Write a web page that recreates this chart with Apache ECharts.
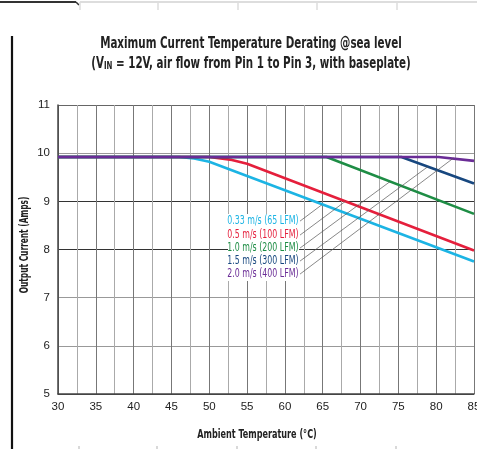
<!DOCTYPE html>
<html><head><meta charset="utf-8">
<script src="https://cdn.jsdelivr.net/npm/echarts@6/dist/echarts.min.js"></script>
<style>html,body{margin:0;padding:0;background:#fff}#c{width:477px;height:449px}</style>
</head><body><div id="c"></div>
<script>
const FONT = "'DejaVu Sans Condensed',sans-serif";
const TICKFONT = "'Liberation Sans',sans-serif";
const titleLine1 = 'Maximum Current Temperature Derating @sea level';
const titleLine2 = '(V{s|IN} = 12V, air flow from Pin 1 to Pin 3, with baseplate)';
const xName = 'Ambient Temperature (°C)';
const yName = 'Output Current (Amps)';
const seriesNames = ['0.33 m/s (65 LFM)','0.5 m/s (100 LFM)','1.0 m/s (200 LFM)','1.5 m/s (300 LFM)','2.0 m/s (400 LFM)'];
const seriesColors = ['#1cb4e4','#e51f3c','#1e8d45','#17477f','#6a2c96'];
const cyan33 = [[30,9.92],[46,9.92],[48,9.89],[50,9.82],[85,7.75]];
const red50 = [[30,9.92],[50,9.92],[53,9.86],[55,9.78],[85,7.98]];
const green100 = [[30,9.92],[65.5,9.92],[85,8.74]];
const navy150 = [[30,9.92],[75.4,9.92],[85,9.37]];
const purple200 = [[30,9.92],[80.3,9.92],[85,9.84]];
const leaderStart = [[62,8.59],[62,8.30],[62,8.03],[62,7.76],[62,7.49]];
const leaderEnd = [[64.9,8.93],[68.0,9.00],[73.9,9.41],[78.9,9.72],[82.3,9.90]];
const xTicks = [30,35,40,45,50,55,60,65,70,75,80,85];
const yTicks = [5,6,7,8,9,10,11];

const curves = [cyan33, red50, green100, navy150, purple200];
const series = [];
curves.forEach((d,i)=>{
  series.push({type:'line', name:seriesNames[i], data:d, showSymbol:false, symbol:'none',
    lineStyle:{color:seriesColors[i], width:2.6}, z:3+i, animation:false});
});
leaderStart.forEach((s,i)=>{
  series.push({type:'line', data:[s, leaderEnd[i]], showSymbol:false, symbol:'none',
    lineStyle:{color:'#555', width:0.7}, z:10, animation:false, silent:true});
});

const deco = [
  {type:'line', shape:{x1:12, y1:36, x2:12, y2:449}, style:{stroke:'#111', lineWidth:2.2}},
  {type:'line', shape:{x1:0, y1:2, x2:76, y2:2}, style:{stroke:'#333', lineWidth:2}},
  {type:'line', shape:{x1:76, y1:2, x2:79, y2:5}, style:{stroke:'#333', lineWidth:1.5}},
  {type:'line', shape:{x1:80, y1:2, x2:477, y2:2}, style:{stroke:'#ddd', lineWidth:2}}
];
[80,158,238,317,397].forEach(x=>{
  deco.push({type:'line', shape:{x1:x, y1:2, x2:x, y2:10}, style:{stroke:'#ddd', lineWidth:1.5}});
  deco.push({type:'line', shape:{x1:x-1, y1:446, x2:x-1, y2:449}, style:{stroke:'#ccc', lineWidth:1.5}});
});

const chart = echarts.init(document.getElementById('c'), null, {renderer:'canvas'});
chart.setOption({
  animation:false,
  backgroundColor:'#fff',
  grid:{left:58, right:3, top:105, bottom:55, outerBoundsMode:'none', containLabel:false},
  xAxis:{type:'value', min:30, max:85, interval:2.5,
    axisLine:{show:true, lineStyle:{color:'#444', width:1.5}}, axisTick:{show:false},
    axisLabel:{fontFamily:TICKFONT, fontSize:11.5, color:'#222', margin:7, hideOverlap:false,
      formatter:v=> xTicks.indexOf(v)>=0 ? String(v) : ''},
    splitLine:{show:true, lineStyle:{color:['#777','#aaa'], width:1}}},
  yAxis:{type:'value', min:5, max:11, interval:1,
    axisLine:{show:true, lineStyle:{color:'#444', width:1.5}}, axisTick:{show:false},
    axisLabel:{fontFamily:TICKFONT, fontSize:11.5, color:'#222', margin:8,
      formatter:v=> yTicks.indexOf(v)>=0 ? String(v) : ''},
    splitLine:{show:true, lineStyle:{color:['#444','#999','#999','#333','#333','#999','#666'], width:1}}},
  graphic: deco,
  series: series
});

const texts = [];
texts.push({type:'text', x:251, y:43.5, scaleX:0.74, z:100,
  style:{text:titleLine1, fill:'#222', fontFamily:FONT, fontWeight:'bold', fontSize:15.5,
    textAlign:'center', textVerticalAlign:'middle'}});
texts.push({type:'text', x:251, y:64, scaleX:0.74, z:100,
  style:{text:titleLine2, fill:'#222', fontFamily:FONT, fontWeight:'bold', fontSize:15.5,
    textAlign:'center', textVerticalAlign:'middle',
    rich:{s:{fill:'#222', fontFamily:FONT, fontWeight:'bold', fontSize:10.5, padding:[4,0,0,0]}}}});
texts.push({type:'text', x:257, y:435, scaleX:0.72, z:100,
  style:{text:xName, fill:'#222', fontFamily:FONT, fontWeight:'bold', fontSize:12.5,
    textAlign:'center', textVerticalAlign:'middle'}});
texts.push({type:'text', x:25, y:245, rotation:Math.PI/2, scaleX:0.72, z:100,
  style:{text:yName, fill:'#222', fontFamily:FONT, fontWeight:'bold', fontSize:11.5,
    textAlign:'center', textVerticalAlign:'middle'}});
const pFirst = chart.convertToPixel({gridIndex:0}, leaderStart[0]);
const pLast = chart.convertToPixel({gridIndex:0}, leaderStart[leaderStart.length-1]);
texts.push({type:'rect', z:99, shape:{x:228, y:pFirst[1]-7, width:pFirst[0]-1-228, height:pLast[1]-pFirst[1]+14},
  style:{fill:'#fff'}});
leaderStart.forEach((s,i)=>{
  const p = chart.convertToPixel({gridIndex:0}, s);
  texts.push({type:'text', x:p[0]-1.5, y:p[1], scaleX:0.7, z:100,
    style:{text:seriesNames[i], fill:seriesColors[i], fontFamily:FONT, fontSize:12.5,
      textAlign:'right', textVerticalAlign:'middle'}});
});
chart.setOption({graphic: deco.concat(texts)});
</script></body></html>
